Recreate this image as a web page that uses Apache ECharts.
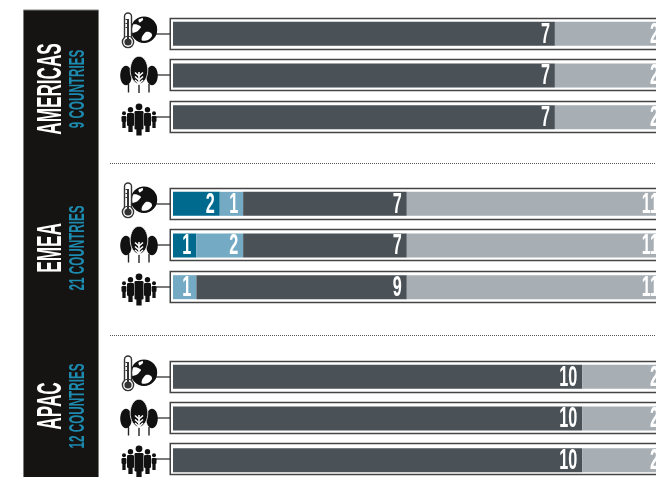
<!DOCTYPE html>
<html><head><meta charset="utf-8">
<style>html,body{margin:0;padding:0;background:#fff;overflow:hidden}#c{width:656px;height:477px}</style>
<script src="https://cdn.jsdelivr.net/npm/echarts@6/dist/echarts.min.js"></script>
</head><body><div id="c"></div>
<script>
const regions = ['AMERICAS', 'EMEA', 'APAC'];
const countryLabels = ['9 COUNTRIES', '21 COUNTRIES', '12 COUNTRIES'];
const countryTotals = [9, 21, 12];
const themes = ['Climate', 'Forests', 'People'];
const level1Americas = [0, 0, 0], level2Americas = [0, 0, 0], level3Americas = [7, 7, 7], level4Americas = [2, 2, 2];
const level1Emea = [2, 1, 0], level2Emea = [1, 2, 1], level3Emea = [7, 7, 9], level4Emea = [11, 11, 11];
const level1Apac = [0, 0, 0], level2Apac = [0, 0, 0], level3Apac = [10, 10, 10], level4Apac = [2, 2, 2];
const colors = ['#006a8e', '#74aac4', '#4a5157', '#a7aeb4'];

const regionData = [
  [level1Americas, level2Americas, level3Americas, level4Americas],
  [level1Emea, level2Emea, level3Emea, level4Emea],
  [level1Apac, level2Apac, level3Apac, level4Apac]
];
const gridTops = [13, 183, 356];
const rowCentres = [[34, 75, 117], [204, 245, 287], [377, 418, 459]];
const panelText = [
  {y: 89, sx: .49, sx2: .53}, {y: 248, sx: .49, sx2: .53}, {y: 406, sx: .49, sx2: .53}
];
const ink = '#111';
const FONT = '"Liberation Sans"';

function thermo(cy) {
  const d = cy - 34;
  const sh = pts => pts.map(p => [p[0], p[1] + d]);
  return [
    {type: 'circle', shape: {cx: 144, cy: 29.7 + d, r: 12.8}, style: {fill: ink}},
    {type: 'polygon', shape: {smooth: .3, points: sh([[138.5, 19.5], [142.5, 18], [143, 20], [139.5, 22.5]])}, style: {fill: '#fff'}},
    {type: 'polygon', shape: {smooth: .2, points: sh([[131, 25], [137, 24.5], [141, 27], [137, 31.5], [131, 33]])}, style: {fill: '#fff'}},
    {type: 'polygon', shape: {smooth: .3, points: sh([[146, 32], [151, 33], [152, 36], [148, 40], [142, 40.5], [142, 37]])}, style: {fill: '#fff'}},
    {type: 'circle', shape: {cx: 144, cy: 29.7 + d, r: 12.6}, style: {fill: 'none', stroke: ink, lineWidth: 1.2}},
    {type: 'rect', shape: {x: 124.5, y: 13 + d, width: 7, height: 28, r: 3.5}, style: {fill: '#fff', stroke: '#333', lineWidth: 1.4}},
    {type: 'circle', shape: {cx: 128, cy: 42 + d, r: 5.6}, style: {fill: '#fff', stroke: '#333', lineWidth: 1.4}},
    {type: 'rect', shape: {x: 125.6, y: 37 + d, width: 4.8, height: 4}, style: {fill: '#fff'}},
    {type: 'circle', shape: {cx: 128, cy: 42 + d, r: 3.6}, style: {fill: '#333'}},
    {type: 'rect', shape: {x: 127, y: 19 + d, width: 2, height: 21}, style: {fill: '#333'}},
    {type: 'rect', shape: {x: 125.5, y: 19 + d, width: 3, height: 1}, style: {fill: '#333'}},
    {type: 'rect', shape: {x: 125.5, y: 23 + d, width: 3, height: 1}, style: {fill: '#333'}},
    {type: 'rect', shape: {x: 125.5, y: 27 + d, width: 3, height: 1}, style: {fill: '#333'}}
  ];
}
function tree(cy) {
  const d = cy - 75;
  const out = [];
  [[126, 75.5, 5.8, 9.8], [152, 75.5, 5.8, 9.8]].forEach(t => {
    out.push({type: 'ellipse', shape: {cx: t[0], cy: t[1] + d, rx: t[2], ry: t[3]}, style: {fill: ink}});
  });
  out.push({type: 'ellipse', shape: {cx: 139, cy: 70 + d, rx: 8.8, ry: 13.8}, style: {fill: ink, stroke: '#fff', lineWidth: .8}});
  [[128.5, 84, 92.5], [139, 82, 93], [149, 84, 92.5]].forEach(t => {
    out.push({type: 'line', shape: {x1: t[0], y1: t[1] + d, x2: t[0], y2: t[2] + d}, style: {stroke: '#222', lineWidth: 1.4}});
  });
  out.push({type: 'line', shape: {x1: 139, y1: 72 + d, x2: 139, y2: 85 + d}, style: {stroke: '#fff', lineWidth: 1.6}});
  [72.5, 76.5, 80].forEach(y => out.push({type: 'polyline', shape: {points: [[135, y + d], [139, y + 3.5 + d], [143, y + d]]}, style: {stroke: '#fff', fill: 'none', lineWidth: 1.6}}));
  return out;
}
function people(cy) {
  const d = cy - 117;
  const fig = (x, head, r, w, top, bottom) => [
    {type: 'circle', shape: {cx: x, cy: head + d, r}, style: {fill: ink}},
    {type: 'rect', shape: {x: x - w / 2, y: top + d, width: w, height: bottom - top - 6, r: 1.2}, style: {fill: ink}},
    {type: 'rect', shape: {x: x - w / 4 - .4, y: bottom - 7 + d, width: w / 2 + .8, height: 7}, style: {fill: ink}}
  ];
  const sep = x => ({type: 'line', shape: {x1: x, y1: 111 + d, x2: x, y2: 136 + d}, style: {stroke: '#fff', lineWidth: .9}});
  return [].concat(
    fig(124, 113.3, 2, 5, 116, 128), fig(154, 113.3, 2, 5, 116, 128),
    [sep(127.2), sep(150.8)],
    fig(130.5, 109.7, 2.7, 7, 113, 132), fig(147.5, 109.7, 2.7, 7, 113, 132),
    [sep(134.6), sep(143.4)],
    fig(139, 106.8, 3.4, 9, 111, 135.5)
  );
}
const iconMakers = [thermo, tree, people];

const graphic = [
  {type: 'rect', shape: {x: 23.5, y: 10, width: 75, height: 480}, style: {fill: '#151412', stroke: '#7d7d7b', lineWidth: 1}},
  {type: 'line', shape: {x1: 110, y1: 163.5, x2: 656, y2: 163.5}, style: {stroke: '#555', lineWidth: 1, lineDash: [1, 1]}},
  {type: 'line', shape: {x1: 110, y1: 335.5, x2: 656, y2: 335.5}, style: {stroke: '#555', lineWidth: 1, lineDash: [1, 1]}}
];
regions.forEach((name, r) => {
  graphic.push({type: 'text', x: 51, y: panelText[r].y, rotation: Math.PI / 2, scaleX: panelText[r].sx, z: 5,
    style: {text: name, fill: '#fff', font: 'bold 35px ' + FONT, textAlign: 'center', textVerticalAlign: 'middle'}});
  graphic.push({type: 'text', x: 78, y: panelText[r].y, rotation: Math.PI / 2, scaleX: panelText[r].sx2, z: 5,
    style: {text: countryLabels[r], fill: '#1d8bb0', font: 'bold 22px ' + FONT, textAlign: 'center', textVerticalAlign: 'middle'}});
  rowCentres[r].forEach((cy, i) => {
    graphic.push({type: 'rect', shape: {x: 170.25, y: cy - 15.5, width: 600, height: 31}, style: {fill: '#fff', stroke: '#444', lineWidth: 1.5}});
    graphic.push({type: 'line', shape: {x1: 156, y1: cy, x2: 170, y2: cy}, style: {stroke: '#222', lineWidth: 1.2}});
    iconMakers[i](cy).forEach(el => graphic.push(el));
  });
});

const grids = [], xAxes = [], yAxes = [], series = [];
regions.forEach((name, r) => {
  grids.push({left: 173, width: 491, top: gridTops[r], height: 125, containLabel: false, outerBoundsMode: 'none'});
  xAxes.push({type: 'value', gridIndex: r, min: 0, max: countryTotals[r], show: false});
  yAxes.push({type: 'category', gridIndex: r, data: themes, inverse: true, show: false});
  regionData[r].forEach((vals, s) => {
    series.push({type: 'bar', name: 'Level ' + (s + 1), stack: 'r' + r, xAxisIndex: r, yAxisIndex: r,
      barWidth: 24, data: vals, itemStyle: {color: colors[s]}, silent: true, animation: false, clip: false});
  });
  const labels = [];
  regionData[r].forEach((vals, s) => vals.forEach((v, i) => {
    if (v > 0) {
      let end = 0;
      for (let k = 0; k <= s; k++) end += regionData[r][k][i];
      labels.push([end, i, v]);
    }
  }));
  series.push({type: 'custom', xAxisIndex: r, yAxisIndex: r, clip: false, silent: true, animation: false, z: 10,
    encode: {x: 0, y: 1}, data: labels,
    renderItem: (p, api) => {
      const pt = api.coord([api.value(0), api.value(1)]);
      return {type: 'text', x: pt[0] - 5, y: pt[1] + 0.5, scaleX: .54, style: {
        text: String(api.value(2)), fill: '#fff', font: 'bold 30px ' + FONT,
        textAlign: 'right', textVerticalAlign: 'middle'}};
    }});
});

const chart = echarts.init(document.getElementById('c'), null, {renderer: 'canvas'});
chart.setOption({animation: false, backgroundColor: '#fff', tooltip: {show: false}, legend: {show: false},
  grid: grids, xAxis: xAxes, yAxis: yAxes, series, graphic});
</script></body></html>
